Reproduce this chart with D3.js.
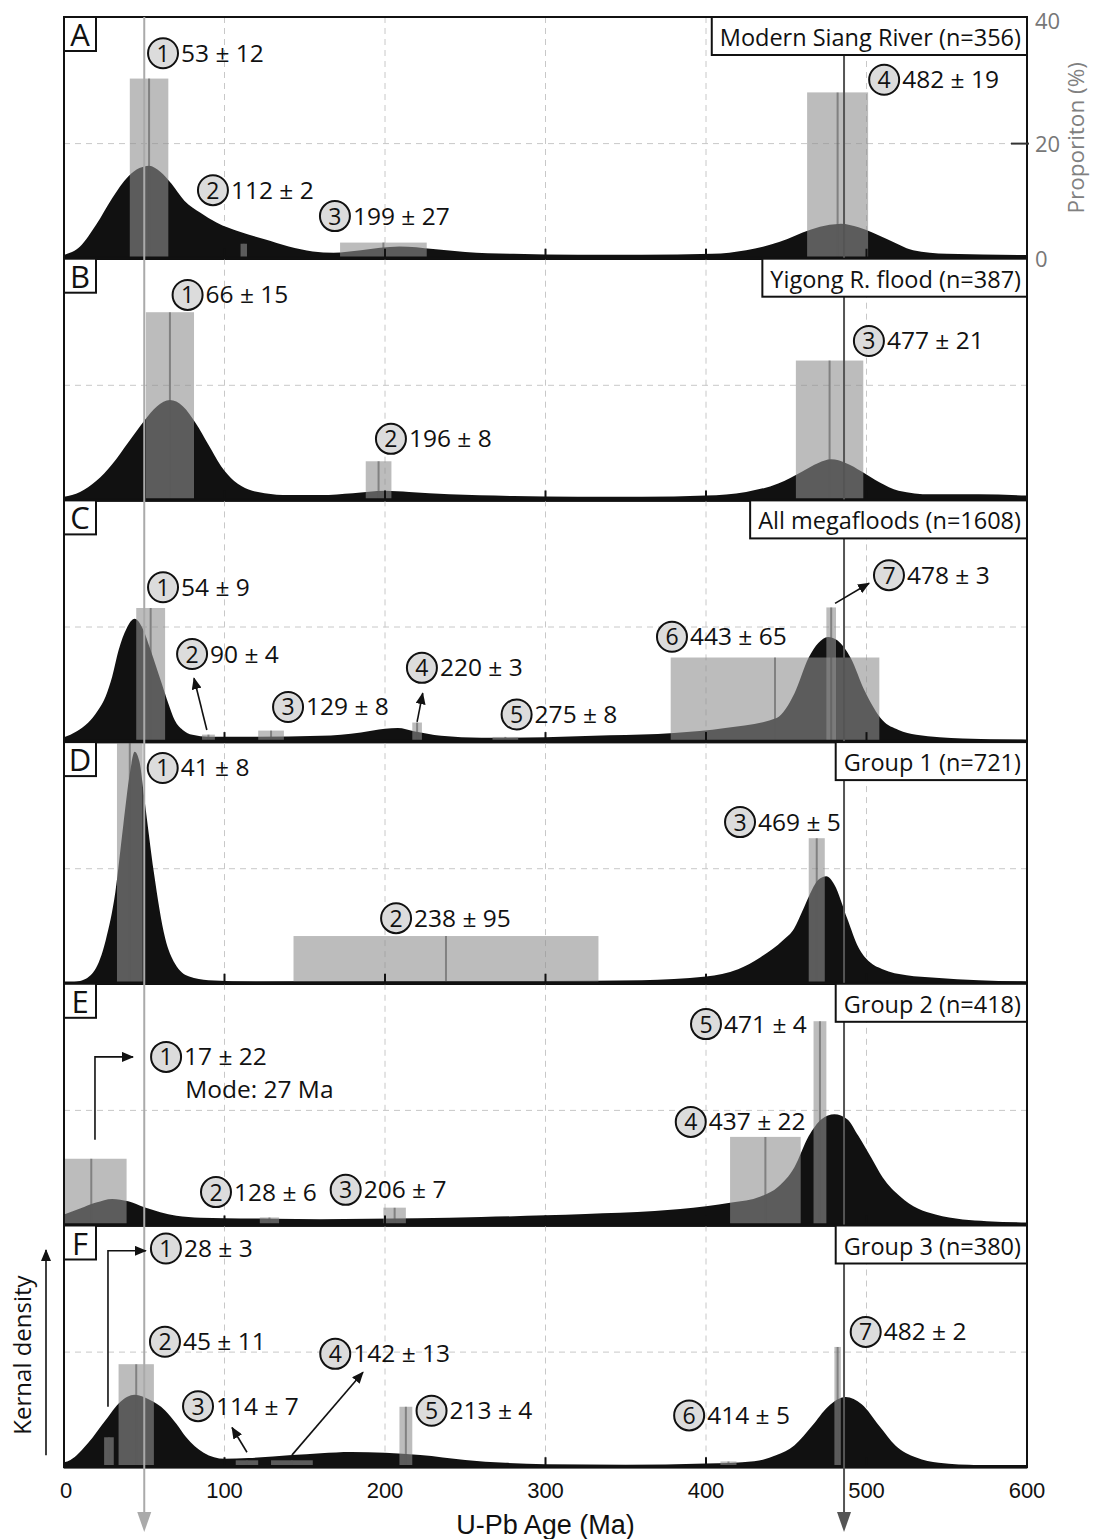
<!DOCTYPE html>
<html>
<head>
<meta charset="utf-8">
<script src="https://cdn.jsdelivr.net/npm/d3@7"></script>
<style>
  body { margin: 0; background: #fff; }
  svg { display: block; font-family: 'Open Sans', sans-serif; }
</style>
</head>
<body>
<script>
// ---- data ----
const ageTicks = [0, 100, 200, 300, 400, 500, 600]
const gridAges = [100, 200, 300, 400, 500]
const pctTicks = [0, 20, 40]
const letters = ['A', 'B', 'C', 'D', 'E', 'F']
const titles = [
  'Modern Siang River (n=356)',
  'Yigong R. flood (n=387)',
  'All megafloods (n=1608)',
  'Group 1 (n=721)',
  'Group 2 (n=418)',
  'Group 3 (n=380)',
]
const refAges = [50, 486] // the two long vertical guide lines

// kernel density curves: [age Ma, relative density]
const curveA = [[0,0.015],[10,0.05],[20,0.14],[30,0.25],[40,0.34],[47,0.375],[53,0.385],[60,0.36],[67,0.31],[75,0.24],[85,0.19],[95,0.15],[110,0.11],[125,0.08],[140,0.05],[155,0.03],[168,0.025],[185,0.035],[209,0.05],[230,0.04],[250,0.028],[280,0.02],[320,0.016],[360,0.016],[404,0.02],[425,0.035],[446,0.07],[465,0.12],[477,0.14],[484,0.145],[495,0.13],[513,0.08],[529,0.035],[550,0.02],[600,0.015]]
const curveB = [[0,0.015],[10,0.035],[20,0.08],[30,0.15],[40,0.24],[50,0.33],[58,0.39],[66,0.415],[74,0.39],[82,0.32],[90,0.23],[98,0.14],[106,0.08],[115,0.045],[125,0.03],[140,0.022],[160,0.022],[180,0.03],[200,0.04],[215,0.035],[240,0.025],[280,0.018],[320,0.015],[360,0.015],[400,0.02],[425,0.035],[445,0.07],[460,0.12],[470,0.155],[478,0.17],[487,0.155],[497,0.12],[508,0.075],[520,0.04],[540,0.025],[570,0.025],[600,0.02]]
const curveC = [[0,0.02],[8,0.045],[15,0.08],[21,0.13],[26,0.19],[30,0.27],[34,0.38],[39,0.47],[44,0.51],[49,0.47],[54,0.38],[61,0.24],[65,0.16],[69,0.09],[74,0.05],[80,0.03],[90,0.022],[120,0.022],[160,0.026],[185,0.04],[200,0.055],[208,0.058],[218,0.045],[235,0.026],[260,0.018],[300,0.02],[340,0.028],[380,0.038],[412,0.058],[444,0.1],[455,0.2],[464,0.35],[470,0.41],[476,0.435],[482,0.42],[490,0.35],[499,0.21],[510,0.09],[520,0.05],[531,0.03],[560,0.015],[600,0.01]]
const curveD = [[0,0.005],[10,0.012],[19,0.055],[26,0.18],[32,0.38],[37,0.66],[41,0.87],[44,0.96],[47,0.92],[50,0.77],[56,0.46],[63,0.19],[69,0.085],[78,0.03],[90,0.015],[120,0.01],[200,0.012],[300,0.012],[360,0.015],[400,0.03],[420,0.06],[434,0.11],[448,0.18],[455,0.23],[460,0.3],[464,0.36],[470,0.43],[475,0.445],[480,0.41],[488,0.27],[495,0.15],[502,0.09],[510,0.06],[525,0.035],[543,0.025],[570,0.015],[600,0.01]]
const curveE = [[0,0.045],[10,0.07],[20,0.095],[30,0.11],[40,0.1],[50,0.075],[60,0.055],[70,0.04],[85,0.032],[100,0.03],[130,0.028],[160,0.026],[190,0.028],[220,0.03],[260,0.035],[300,0.042],[325,0.048],[368,0.06],[400,0.08],[416,0.095],[434,0.12],[445,0.16],[455,0.24],[464,0.37],[472,0.44],[480,0.46],[488,0.44],[495,0.37],[503,0.28],[510,0.2],[521,0.12],[532,0.07],[543,0.045],[560,0.025],[575,0.018],[600,0.012]]
const curveF = [[0,0.02],[4,0.03],[15,0.1],[26,0.195],[35,0.27],[44,0.3],[53,0.28],[63,0.235],[70,0.18],[76,0.125],[87,0.06],[100,0.035],[115,0.038],[142,0.05],[160,0.058],[179,0.063],[200,0.06],[222,0.05],[250,0.03],[275,0.018],[300,0.012],[350,0.01],[400,0.015],[430,0.025],[444,0.05],[455,0.09],[466,0.17],[476,0.25],[487,0.29],[497,0.26],[508,0.17],[518,0.09],[531,0.04],[545,0.018],[570,0.008],[600,0.005]]

// age populations: [mean, ±, proportion %]
const barsA = [[53,12,31.3],[112,2,2.6],[199,27,2.8],[482,19,28.9]]
const barsB = [[66,15,32.7],[196,8,6.8],[477,21,24.3]]
const barsC = [[54,9,23.3],[90,4,1.3],[129,8,2],[220,3,3.4],[275,8,0.9],[443,65,14.7],[478,3,23.4]]
const barsD = [[41,8,42],[238,95,8.3],[469,5,25.3]]
const barsE = [[17,22,11.6],[128,6,1.4],[206,7,3.1],[437,22,15.4],[471,4,35.5]]
const barsF = [[28,3,5.2],[45,11,17.9],[114,7,1.2],[142,13,1.2],[213,4,10.5],[414,5,1],[482,2,20.9]]

// numbered labels: [number, text, age, proportion]
const labelsA = [[1,'53 ± 12',61.7,35.7],[2,'112 ± 2',92.8,11.9],[3,'199 ± 27',168.8,7.4],[4,'482 ± 19',511,31.1]]
const labelsB = [[1,'66 ± 15',77,35.7],[2,'196 ± 8',203.7,10.7],[3,'477 ± 21',501.5,27.7]]
const labelsC = [[1,'54 ± 9',61.7,26.9],[2,'90 ± 4',79.8,15.3],[3,'129 ± 8',139.6,6.1],[4,'220 ± 3',223,12.9],[5,'275 ± 8',282,4.8],[6,'443 ± 65',378.8,18.3],[7,'478 ± 3',514,29]]
const labelsD = [[1,'41 ± 8',61.5,37.5],[2,'238 ± 95',206.9,11.4],[3,'469 ± 5',421.2,28.1]]
const labelsE = [[1,'17 ± 22',63.6,29.3],[2,'128 ± 6',94.7,5.8],[3,'206 ± 7',175.5,6.2],[4,'437 ± 22',390.5,18],[5,'471 ± 4',400,35]]
const labelsF = [[1,'28 ± 3',63.5,38],[2,'45 ± 11',62.9,21.8],[3,'114 ± 7',83.5,10.6],[4,'142 ± 13',169,19.7],[5,'213 ± 4',229,9.8],[6,'414 ± 5',389.5,9],[7,'482 ± 2',499.5,23.5]]
const notesE = [['Mode: 27 Ma', 75.5, 22.2]]

// arrows: list of [age, proportion] points, arrow head at the end
const arrowsC = [[[89,2.1],[81,11.1]],[[220,3.5],[223.5,8.5]],[[480.4,24.1],[501.6,27.6]]]
const arrowsE = [[[19.3,14.9],[19.3,29.3],[43,29.3]]]
const arrowsF = [[[27.4,10.5],[27.4,37.6],[51,37.6]],[[114,2.6],[104.7,6.9]],[[142,2.1],[186.3,16.5]]]

const panels = letters.map((letter, i) => ({
  letter,
  title: titles[i],
  curve: [curveA, curveB, curveC, curveD, curveE, curveF][i],
  bars: [barsA, barsB, barsC, barsD, barsE, barsF][i],
  labels: [labelsA, labelsB, labelsC, labelsD, labelsE, labelsF][i],
  arrows: [[], [], arrowsC, [], arrowsE, arrowsF][i],
  notes: i === 4 ? notesE : [],
}))

// ---- layout ----
const width = 1094
const height = 1539
const top0 = 17
const panelH = 241.7
const pctMax = 42
const x = d3.scaleLinear().domain([0, 600]).range([64, 1027]).clamp(true)
const bottomAll = top0 + panelH * panels.length

const svg = d3.select('body').append('svg')
  .attr('width', width).attr('height', height)
  .attr('viewBox', [0, 0, width, height])

const defs = svg.append('defs')
defs.append('marker')
  .attr('id', 'head')
  .attr('viewBox', '0 0 12 10')
  .attr('refX', 11).attr('refY', 5)
  .attr('markerWidth', 12).attr('markerHeight', 10)
  .attr('markerUnits', 'userSpaceOnUse')
  .attr('orient', 'auto')
  .append('path').attr('d', 'M0,0L12,5L0,10Z').attr('fill', '#111')

const layers = {
  plot: svg.append('g'),
  refs: svg.append('g'),
  boxes: svg.append('g'),
  notes: svg.append('g'),
}

panels.forEach((p, i) => {
  const top = top0 + i * panelH
  const bottom = top + panelH
  const yP = d3.scaleLinear().domain([0, pctMax]).range([bottom, top])
  const yD = d3.scaleLinear().domain([0, 1]).range([bottom, top])

  defs.append('clipPath').attr('id', `clip${i}`)
    .append('rect').attr('x', x(0)).attr('y', top).attr('width', x(600) - x(0)).attr('height', panelH)

  const g = layers.plot.append('g').attr('clip-path', `url(#clip${i})`)

  // dashed grid
  g.selectAll('.vgrid').data(gridAges).join('line')
    .attr('x1', d => x(d)).attr('x2', d => x(d))
    .attr('y1', top).attr('y2', bottom)
    .attr('stroke', '#c8c8c8').attr('stroke-width', 1).attr('stroke-dasharray', '6,5')
  g.append('line')
    .attr('x1', x(0)).attr('x2', x(600)).attr('y1', yP(20)).attr('y2', yP(20))
    .attr('stroke', '#c8c8c8').attr('stroke-width', 1).attr('stroke-dasharray', '6,5')

  // kernel density
  const area = d3.area()
    .x(d => x(d[0])).y0(yD(0)).y1(d => yD(d[1]))
    .curve(d3.curveMonotoneX)
  g.append('path').datum(p.curve).attr('d', area).attr('fill', '#111')

  // proportion bars
  g.selectAll('.bar').data(p.bars).join('rect')
    .attr('x', d => x(d[0] - d[1]))
    .attr('width', d => x(d[0] + d[1]) - x(d[0] - d[1]))
    .attr('y', d => yP(d[2]))
    .attr('height', d => yP(0) - yP(d[2]))
    .attr('fill', '#8f8f8f').attr('fill-opacity', 0.6)
  g.selectAll('.mean').data(p.bars).join('line')
    .attr('x1', d => x(d[0])).attr('x2', d => x(d[0]))
    .attr('y1', d => yP(d[2])).attr('y2', yP(0))
    .attr('stroke', '#5a5a5a').attr('stroke-opacity', 0.6).attr('stroke-width', 2)

  // bottom ticks
  g.selectAll('.tick').data(gridAges).join('line')
    .attr('x1', d => x(d)).attr('x2', d => x(d))
    .attr('y1', bottom).attr('y2', bottom - 10)
    .attr('stroke', '#111').attr('stroke-width', 2)

  // frame
  layers.plot.append('rect')
    .attr('x', x(0)).attr('y', top).attr('width', x(600) - x(0)).attr('height', panelH)
    .attr('fill', 'none').attr('stroke', '#111').attr('stroke-width', 2)
  layers.plot.append('line')
    .attr('x1', x(0)).attr('x2', x(600)).attr('y1', bottom - 0.5).attr('y2', bottom - 0.5)
    .attr('stroke', '#111').attr('stroke-width', 3.5)

  // letter box
  const lb = layers.boxes.append('g')
  lb.append('rect').attr('x', x(0)).attr('y', top).attr('width', 32).attr('height', 34)
    .attr('fill', '#fff').attr('stroke', '#111').attr('stroke-width', 2)
  lb.append('text').attr('x', x(0) + 16).attr('y', top + 29).attr('text-anchor', 'middle')
    .attr('font-size', 31).attr('fill', '#111').text(p.letter)

  // title box
  const tb = layers.boxes.append('g')
  const tt = tb.append('text').attr('x', x(600) - 6).attr('y', top + 29)
    .attr('text-anchor', 'end').attr('font-size', 23.5).attr('fill', '#111').text(p.title)
  const tw = tt.node().getComputedTextLength()
  tb.insert('rect', 'text')
    .attr('x', x(600) - tw - 14).attr('y', top).attr('width', tw + 14).attr('height', 38)
    .attr('fill', '#fff').attr('stroke', '#111').attr('stroke-width', 2)

  // arrows
  const line = d3.line().x(d => x(d[0])).y(d => yP(d[1]))
  layers.notes.selectAll(null).data(p.arrows).join('path')
    .attr('d', line).attr('fill', 'none')
    .attr('stroke', '#111').attr('stroke-width', 1.6)
    .attr('marker-end', 'url(#head)')

  // numbered labels
  const lab = layers.notes.selectAll(null).data(p.labels).join('g')
    .attr('transform', d => `translate(${x(d[2])},${yP(d[3])})`)
  lab.append('circle').attr('r', 15)
    .attr('fill', '#dcdcdc').attr('stroke', '#111').attr('stroke-width', 2)
  lab.append('text').attr('y', 8.5).attr('text-anchor', 'middle')
    .attr('font-size', 23).attr('fill', '#111').text(d => d[0])
  lab.append('text').attr('x', 18).attr('y', 8.5)
    .attr('font-size', 24.5).attr('fill', '#111').text(d => d[1])

  layers.notes.selectAll(null).data(p.notes).join('text')
    .attr('x', d => x(d[1])).attr('y', d => yP(d[2]))
    .attr('font-size', 24.5).attr('fill', '#111').text(d => d[0])

  // proportion axis on the first panel
  if (i === 0) {
    const ax = svg.append('g')
    ax.append('line').attr('x1', x(600) - 16).attr('x2', x(600) + 2)
      .attr('y1', yP(20)).attr('y2', yP(20)).attr('stroke', '#333').attr('stroke-width', 2)
    ax.selectAll('text').data(pctTicks).join('text')
      .attr('x', x(600) + 8).attr('y', d => yP(d) + 8 - (d === 40 ? 8 : 0))
      .attr('font-size', 22).attr('fill', '#777').text(d => d)
    ax.append('text')
      .attr('transform', `translate(${x(600) + 57},${yP(21)}) rotate(-90)`)
      .attr('text-anchor', 'middle').attr('font-size', 22.5).attr('fill', '#808080')
      .text('Proporiton (%)')
  }
})

// long guide lines with arrow heads
refAges.forEach((a, k) => {
  const col = k === 0 ? '#aaa' : '#555'
  layers.refs.append('line')
    .attr('x1', x(a)).attr('x2', x(a)).attr('y1', top0).attr('y2', 1520)
    .attr('stroke', col).attr('stroke-width', 2)
  layers.refs.append('path')
    .attr('d', `M${x(a) - 7},1512L${x(a) + 7},1512L${x(a)},1532Z`)
    .attr('fill', col)
})

// age axis
svg.append('g').selectAll('text').data(ageTicks).join('text')
  .attr('x', d => x(d)).attr('y', bottomAll + 31)
  .attr('text-anchor', d => (d === 0 ? 'start' : 'middle'))
  .attr('dx', d => (d === 0 ? -4 : 0))
  .attr('font-family', 'Liberation Sans, Arial, sans-serif')
  .attr('font-size', 22).attr('fill', '#111').text(d => d)
svg.append('text')
  .attr('x', (x(0) + x(600)) / 2).attr('y', bottomAll + 67)
  .attr('text-anchor', 'middle')
  .attr('font-family', 'Liberation Sans, Arial, sans-serif')
  .attr('font-size', 27).attr('fill', '#111').text('U-Pb Age (Ma)')

// kernel density axis title
svg.append('line').attr('x1', 46).attr('x2', 46).attr('y1', bottomAll - 12).attr('y2', 1250)
  .attr('stroke', '#111').attr('stroke-width', 1.6).attr('marker-end', 'url(#head)')
svg.append('text')
  .attr('transform', `translate(31,1355) rotate(-90)`)
  .attr('text-anchor', 'middle').attr('font-size', 24).attr('fill', '#111')
  .text('Kernal density')
</script>
</body>
</html>
